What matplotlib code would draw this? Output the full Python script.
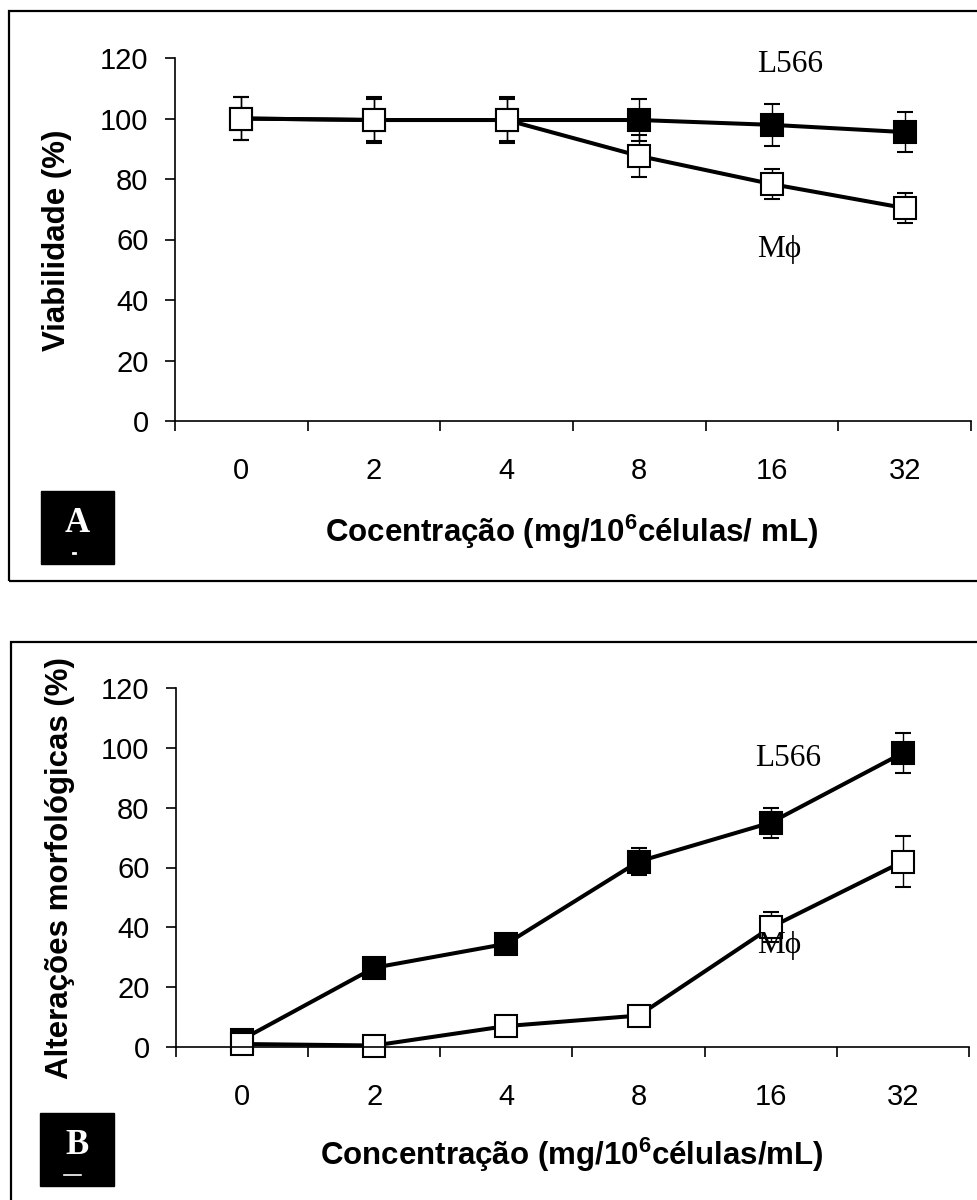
import numpy as np
import matplotlib
matplotlib.use('Agg')
import matplotlib.pyplot as plt
from matplotlib.lines import Line2D
from matplotlib.patches import Rectangle

plt.rcParams['font.family'] = ['Liberation Sans', 'DejaVu Sans']
plt.rcParams['mathtext.fontset'] = 'custom'
plt.rcParams['mathtext.rm'] = 'Liberation Sans'
plt.rcParams['mathtext.bf'] = 'Liberation Sans:bold'

# data
conc = ['0', '2', '4', '8', '16', '32']
yticks = [0, 20, 40, 60, 80, 100, 120]

a_l566 = [100, 99.5, 99.5, 99.5, 97.9, 95.5]
a_l566_err = [7, 7, 7, 7, 7, 6.6]
a_mf = [100, 99.5, 99.5, 87.6, 78.3, 70.4]
a_mf_err = [7, 7.5, 7.5, 7, 5, 5]

b_l566 = [2.5, 26.5, 34.5, 62, 75, 98.3]
b_l566_err = [0, 0, 1, 4.5, 5, 6.7]
b_mf = [1, 0.5, 7, 10.5, 40, 62]
b_mf_err = [0, 0, 0, 0, 5, 8.5]

W, H = 978, 1200
fig = plt.figure(figsize=(W / 100, H / 100), dpi=100)

TICK_FS = 21
TITLE_FS = 22.5
SERIF_FS = 22.5


def fx(x):
    return x / W


def fy(y):
    return 1 - y / H


def panel(left, right, top, bottom, l566, l566_err, mf, mf_err):
    ax = fig.add_axes([fx(left), fy(bottom), (right - left) / W, (bottom - top) / H])
    xs = np.arange(len(conc))
    for vals, err, face in [(l566, l566_err, 'black'), (mf, mf_err, 'white')]:
        ax.errorbar(xs, vals, yerr=err, color='black', lw=2.9, marker='s', ms=15.5,
                    mfc=face, mec='black', mew=1.5, ecolor='black', elinewidth=1.0,
                    capsize=6, capthick=1.0, clip_on=False)
    ax.set_xlim(-0.5, len(conc) - 0.5)
    ax.set_ylim(0, 120)
    ax.set_yticks(yticks)
    ax.set_xticks(xs)
    ax.set_xticklabels(conc)
    ax.set_xticks(np.arange(len(conc) + 1) - 0.5, minor=True)
    ax.tick_params(axis='x', which='major', length=0, pad=26, labelsize=TICK_FS)
    ax.tick_params(axis='x', which='minor', length=7, width=1.2, direction='out')
    ax.tick_params(axis='y', length=7, width=1.2, direction='out', pad=12, labelsize=TICK_FS)
    for s in ['top', 'right']:
        ax.spines[s].set_visible(False)
    for s in ['left', 'bottom']:
        ax.spines[s].set_linewidth(1.2)
    return ax


def border(x0, y0, x1, y1):
    fig.add_artist(Rectangle((fx(x0), fy(y1)), (x1 - x0) / W, (y1 - y0) / H,
                             transform=fig.transFigure, fill=False,
                             edgecolor='black', lw=1.6))


def tag(letter, x0, y0, x1, y1):
    fig.add_artist(Rectangle((fx(x0), fy(y1)), (x1 - x0) / W, (y1 - y0) / H,
                             transform=fig.transFigure, facecolor='black',
                             edgecolor='black'))
    cx = (x0 + x1) / 2
    fig.text(fx(cx), fy(y0 + 32), letter, color='white', fontsize=25,
             fontweight='bold', family='Liberation Serif', ha='center', va='center')


# panel A
border(9, 11, 990, 581)
panel(175, 971, 58, 421, a_l566, a_l566_err, a_mf, a_mf_err)
fig.text(fx(57), fy(240), 'Viabilidade (%)', rotation=90, fontsize=TITLE_FS,
         fontweight='bold', ha='center', va='center')
fig.text(fx(572), fy(532), 'Cocentração (mg/10$^{\\mathbf{6}}$células/ mL)',
         fontsize=TITLE_FS, fontweight='bold', ha='center', va='center')
fig.text(fx(790), fy(65), 'L566', fontsize=SERIF_FS, family='Liberation Serif',
         ha='center', va='center')
fig.text(fx(779), fy(250), 'M\u03d5', fontsize=SERIF_FS,
         family=['Liberation Serif', 'DejaVu Serif'], ha='center', va='center')
tag('A', 41, 491, 114, 564)
fig.add_artist(Line2D([fx(73), fx(75)], [fy(553), fy(553)], transform=fig.transFigure,
                      color='white', lw=2))

# panel B
border(11, 642, 990, 1210)
panel(176, 969, 688, 1047, b_l566, b_l566_err, b_mf, b_mf_err)
fig.text(fx(60), fy(868), 'Alterações morfológicas (%)', rotation=90, fontsize=TITLE_FS,
         fontweight='bold', ha='center', va='center')
fig.text(fx(572), fy(1155), 'Concentração (mg/10$^{\\mathbf{6}}$células/mL)',
         fontsize=TITLE_FS, fontweight='bold', ha='center', va='center')
fig.text(fx(788), fy(758), 'L566', fontsize=SERIF_FS, family='Liberation Serif',
         ha='center', va='center')
fig.text(fx(779), fy(945), 'M\u03d5', fontsize=SERIF_FS,
         family=['Liberation Serif', 'DejaVu Serif'], ha='center', va='center')
tag('B', 40, 1113, 114, 1186)
fig.add_artist(Line2D([fx(64), fx(81)], [fy(1175), fy(1175)], transform=fig.transFigure,
                      color='white', lw=1.2))

fig.savefig('out.png', dpi=100)
